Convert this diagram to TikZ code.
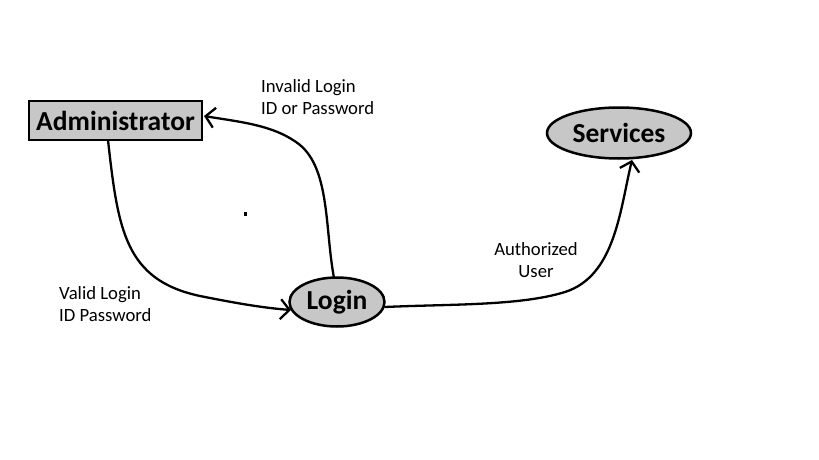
\documentclass[tikz,border=0pt]{standalone}
\usepackage{fontspec}
\setmainfont{Carlito}
\usetikzlibrary{arrows.meta,shapes.geometric}
\begin{document}
\begin{tikzpicture}[x=1pt,y=-1pt,
  boxnode/.style={draw=black,line width=2.5pt,fill=black!22,minimum width=173pt,minimum height=39pt,inner sep=0pt,font=\bfseries\fontsize{27.5}{30}\selectfont},
  ellnode/.style={ellipse,draw=black,line width=2.5pt,fill=black!22,inner sep=0pt,font=\bfseries\fontsize{27.5}{30}\selectfont},
  conn/.style={line width=2.3pt,-{Straight Barb[length=9pt,width=20pt,line width=2.3pt]}},
  lbl/.style={font=\fontsize{18.7}{22}\selectfont,inner sep=0pt}]
\useasboundingbox (0,0) rectangle (819,460);
\node[boxnode] (admin) at (115.5,120.5) {Administrator};
\node[ellnode,minimum width=95pt,minimum height=49pt] (login) at (337,302) {Login};
\node[ellnode,minimum width=144pt,minimum height=51pt] (serv) at (619,133) {Services};
\coordinate (adminbot) at (108,140);
\coordinate (loginleft) at (291,310);
\coordinate (logintop) at (334,278);
\coordinate (adminright) at (204,116);
\coordinate (loginright) at (385,307);
\coordinate (servbot) at (632,160);
\draw[conn] (adminbot) .. controls (118,230) and (125,280) .. (200,296) .. controls (240,304) and (265,308) .. (loginleft);
\draw[conn] (logintop) .. controls (325,230) and (330,170) .. (300,145) .. controls (275,125) and (240,122) .. (adminright);
\draw[conn] (loginright) .. controls (450,304) and (520,306) .. (565,292) .. controls (615,276) and (620,210) .. (servbot);
\node[lbl,align=left,anchor=north west] (l1) at (261,79) {Invalid Login\\ID or Password};
\node[lbl,align=center,anchor=north] (l2) at (536,242) {Authorized\\User};
\node[lbl,align=left,anchor=north west] (l3) at (59,286) {Valid Login\\ID Password};
\fill (243.5,211.5) rectangle (246.5,215.5);
\end{tikzpicture}
\end{document}
